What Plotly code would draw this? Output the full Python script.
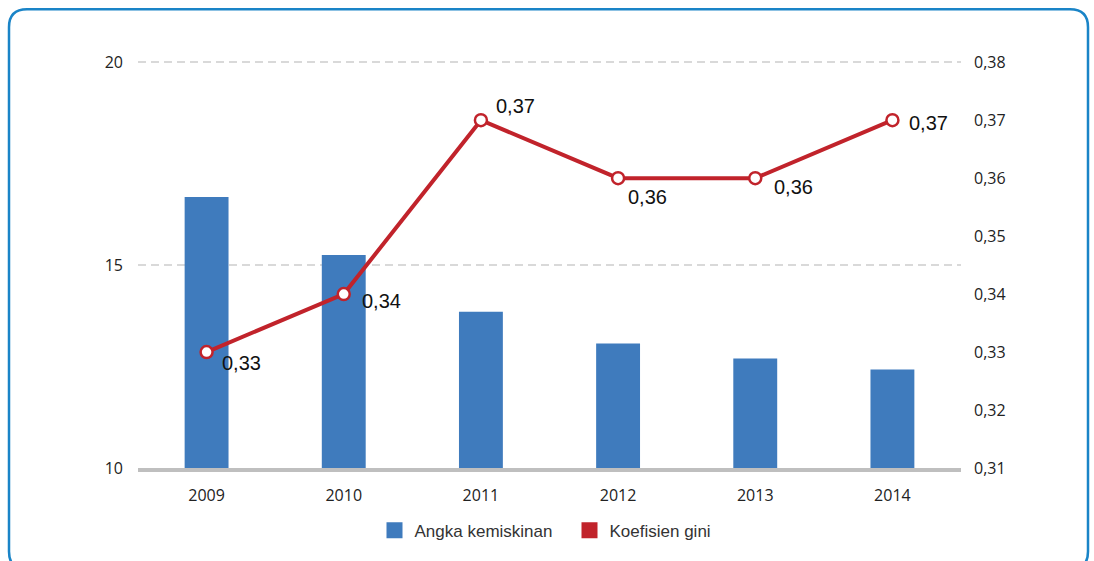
import plotly.graph_objects as go

years = ['2009', '2010', '2011', '2012', '2013', '2014']
angka_kemiskinan = [16.68, 15.25, 13.85, 13.07, 12.70, 12.43]
koefisien_gini = [0.33, 0.34, 0.37, 0.36, 0.36, 0.37]

# label offsets from each point, in pixels (style only)
label_dx = [13, 16, 13, 8, 17, 15]
label_dy = [-11, -7, 14, -19, -9, -3]

BLUE = '#3f7bbd'
RED = '#c1232b'

# plot area in pixels (used to place the frame)
L, R, T, B = 138, 133, 61, 91
W, H = 1094, 561
pw, ph = W - L - R, H - T - B


def px_x(x):
    return (x - L) / pw


def px_y(y):
    return (H - B - y) / ph


fig = go.Figure()

fig.add_trace(go.Bar(
    x=years, y=angka_kemiskinan, name='Angka kemiskinan',
    marker=dict(color=BLUE, line=dict(width=0)),
    width=0.32, yaxis='y', hoverinfo='y', showlegend=False
))

fig.add_trace(go.Scatter(
    x=years, y=koefisien_gini, name='Koefisien gini', yaxis='y2',
    mode='lines+markers',
    line=dict(color=RED, width=4),
    marker=dict(size=12, color='white', line=dict(color=RED, width=2.5)),
    showlegend=False
))

# legend entries with square swatches
for name, col in [('Angka kemiskinan', BLUE), ('Koefisien gini', RED)]:
    fig.add_trace(go.Scatter(
        x=[None], y=[None], name=name, mode='markers', yaxis='y2',
        marker=dict(symbol='square', size=18, color=col)
    ))

# value labels next to the line points (x given as category index)
for i, (v, dx, dy) in enumerate(zip(koefisien_gini, label_dx, label_dy)):
    fig.add_annotation(
        x=i, y=v, xref='x', yref='y2', text=f'{v:.2f}'.replace('.', ','),
        showarrow=False, xanchor='left', yanchor='middle', xshift=dx, yshift=dy,
        font=dict(family='Liberation Sans, Arial', size=20, color='#111')
    )

# rounded frame
x0, x1 = px_x(9), px_x(1088)
y0, y1 = px_y(9), px_y(572)
rx, ry = 18 / pw, 18 / ph
path = (f'M {x0 + rx},{y0} L {x1 - rx},{y0} Q {x1},{y0} {x1},{y0 - ry} '
        f'L {x1},{y1 + ry} Q {x1},{y1} {x1 - rx},{y1} '
        f'L {x0 + rx},{y1} Q {x0},{y1} {x0},{y1 + ry} '
        f'L {x0},{y0 - ry} Q {x0},{y0} {x0 + rx},{y0} Z')

fig.update_layout(
    width=W, height=H,
    margin=dict(l=L, r=R, t=T, b=B),
    paper_bgcolor='white', plot_bgcolor='white',
    separators=',.',
    barmode='overlay',
    font=dict(family='Open Sans, Noto Sans', size=16, color='#222'),
    xaxis=dict(
        type='category', categoryorder='array', categoryarray=years,
        range=[-0.5, len(years) - 0.5],
        showgrid=False, showline=True, linecolor='#bfbfbf', linewidth=4,
        ticks='', ticklabelstandoff=10
    ),
    yaxis=dict(
        range=[10, 20.03], tickvals=[10, 15, 20],
        showgrid=True, gridcolor='#d9d9d9', gridwidth=2, griddash='8px,5px',
        zeroline=False, showline=False, ticklabelstandoff=14
    ),
    yaxis2=dict(
        overlaying='y', side='right', range=[0.31, 0.31 + 0.07 * 1.003],
        tickvals=[0.31, 0.32, 0.33, 0.34, 0.35, 0.36, 0.37, 0.38],
        tickformat='.2f', showgrid=False, zeroline=False, showline=False,
        ticklabelstandoff=12
    ),
    legend=dict(
        orientation='h', x=0.5 + 20 / pw, xanchor='center', y=px_y(533), yanchor='middle',
        font=dict(family='Liberation Sans, Arial', size=17, color='#333'),
        itemsizing='trace', traceorder='normal', entrywidth=150
    ),
    shapes=[dict(type='path', path=path, xref='paper', yref='paper',
                 line=dict(color='#1a84c7', width=2.5), layer='above')]
)

fig.write_html('out.html', config={'displayModeBar': False},
               post_script="document.body.style.margin='0';")
